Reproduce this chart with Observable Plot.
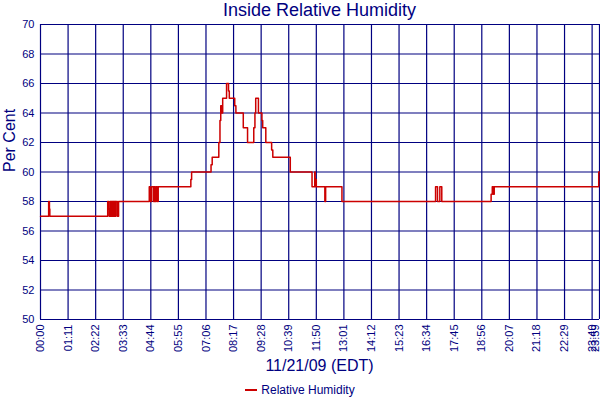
<!DOCTYPE html>
<html><head><meta charset="utf-8">
<script src="https://cdn.jsdelivr.net/npm/d3@7"></script>
<script src="https://cdn.jsdelivr.net/npm/@observablehq/plot@0.6"></script>
<style>
body{margin:0;background:#fff;font-family:"Liberation Sans",Arial,sans-serif;color:#000080;width:600px;position:relative;}
#title{position:absolute;top:0;left:40px;width:559px;height:20px;line-height:20px;font-size:18px;text-align:center;white-space:nowrap;z-index:2;}
#chart svg{display:block;}
#xlabel{height:18px;line-height:18px;font-size:16px;text-align:center;padding-left:40px;width:559px;white-space:nowrap;}
#legend{margin-top:8px;line-height:14px;font-size:12px;text-align:center;width:600px;white-space:nowrap;}
#legend .sw{display:inline-block;width:12px;height:2px;background:#cc0000;vertical-align:middle;margin-right:4px;position:relative;top:-1px;}
</style></head><body>
<div id="title">Inside Relative Humidity</div>
<div id="chart"></div>
<div id="xlabel">11/21/09 (EDT)</div>
<div id="legend"><span class="sw"></span>Relative Humidity</div>
<script>
const times = ["00:00","00:21","00:23","00:24","02:53","02:55","02:57","02:59","03:01","03:02","03:04","03:05","03:07","03:08","03:10","03:11","03:13","03:14","03:18","03:21",
"04:40","04:42","04:43","04:46","04:51","04:53","04:55","04:58","05:01","05:03","06:27","06:29","07:19","07:22","07:39","07:42","07:44","07:46","07:49","07:59","08:04","08:06",
"08:20","08:23","08:42","08:53","09:09","09:12","09:14","09:21","09:30","09:32","09:40","09:55","09:58","10:43","11:39","11:46","11:47","11:49","11:50","12:12","12:14","12:56",
"16:57","17:02","17:08","17:13","19:20","19:23","19:26","19:28","23:57","23:59"];
const humidity = [57,58,57.5,57,58,57.5,57,58,57,58,57,58,57,58,57,58,57,58,57,58,
59,58.5,58,59,58,59,58,59,58,59,59.5,60,60.5,61,62,63.5,64.5,64,65,66,65.5,65,
64.5,64,63,62,63,64,65,64,63.5,63,62,61.5,61,60,59,60,59,59.5,59,58,59,58,
59,58,59,58,58.5,59,58.5,59,60,60];
const xTickLabels = ["00:00","01:11","02:22","03:33","04:44","05:55","07:06","08:17","09:28","10:39","11:50","13:01","14:12","15:23","16:34","17:45","18:56","20:07","21:18","22:29","23:40","23:59"];
const yTicks = [50,52,54,56,58,60,62,64,66,68,70];
const seriesName = "Relative Humidity";

const toMin = s => { const [h, m] = s.split(":").map(Number); return h * 60 + m; };
const data = times.map((t, i) => ({t: toMin(t), v: humidity[i], s: seriesName}));
const xTicks = xTickLabels.map(toMin);
const fmt = new Map(xTicks.map((m, i) => [m, xTickLabels[i]]));
const navy = "#000080";
const axisOpts = {tickRotate: -90, tickSize: 0, tickPadding: 5, tickFormat: d => fmt.get(d), label: null, fontSize: 11};

const chart = Plot.plot({
  width: 600, height: 357,
  marginTop: 24, marginLeft: 40, marginRight: 1, marginBottom: 38,
  style: {fontFamily: "Liberation Sans, Arial, sans-serif", fontSize: "11px", color: navy, background: "transparent"},
  x: {domain: [xTicks[0], xTicks[xTicks.length - 1]]},
  y: {domain: [yTicks[0], yTicks[yTicks.length - 1]]},
  marks: [
    Plot.gridX(xTicks, {stroke: navy, strokeOpacity: 1, strokeWidth: 1.2}),
    Plot.gridY(yTicks, {stroke: navy, strokeOpacity: 1, strokeWidth: 1.2}),
    Plot.line(data, {x: "t", y: "v", curve: "step-after", stroke: "#cc0000", strokeWidth: 1.5}),
    Plot.axisX(xTicks.slice(0, -1), axisOpts),
    Plot.axisX(xTicks.slice(-1), {...axisOpts, dx: -4}),
    Plot.axisY(yTicks, {tickSize: 0, tickPadding: 6, label: null, fontSize: 11}),
    Plot.text([seriesName === "" ? "" : "Per Cent"], {frameAnchor: "left", rotate: -90, dx: -31, fontSize: 16, fill: navy})
  ]
});
document.getElementById("chart").append(chart);
</script>
</body></html>
